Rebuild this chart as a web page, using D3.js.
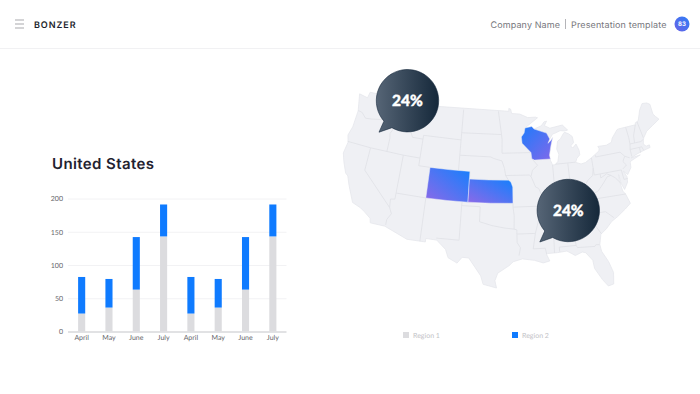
<!DOCTYPE html>
<html>
<head>
<meta charset="utf-8">
<script src="https://cdn.jsdelivr.net/npm/d3@7"></script>
<style>
  html, body { margin: 0; padding: 0; background: #fff; }
  svg { display: block; }
  text { font-family: Lato, sans-serif; text-rendering: geometricPrecision; }
  .head { font-family: Inter, "Open Sans", sans-serif; }
</style>
</head>
<body>
<svg id="chart" width="700" height="394"></svg>
<script>
// Balkendiagramm
const months = ["April", "May", "June", "July", "April", "May", "June", "July"];
const region1 = [27, 36, 63, 143, 27, 36, 63, 143];
const region2 = [55, 43, 79, 48, 55, 43, 79, 48];
const yTicks = [0, 50, 100, 150, 200];
const legendNames = ["Region 1", "Region 2"];
const bubbleLabels = ["24%", "24%"];

// Karte, alles in [lon, lat]
const usOutline = [[-124.7,48.4],[-123,48.2],[-122.8,49],[-110,49],[-95.15,49],[-95.15,49.38],[-94.8,49.3],[-94.6,48.7],[-93,48.6],[-91.5,48.1],[-90,48.1],[-89.6,48],[-92.1,46.75],[-90.8,46.9],[-90.4,46.55],[-89,46.9],[-88.4,47.4],[-87.9,47.47],[-88.4,46.9],[-87.4,46.5],[-85,46.75],[-84.6,46.45],[-84.1,46],[-84.7,45.95],[-85.5,46.05],[-86.5,45.8],[-87,45.7],[-87.6,45.1],[-88,44.55],[-87.4,44.9],[-87.05,45.25],[-87.5,44.2],[-87.9,43],[-87.8,42.3],[-87.5,41.7],[-87,41.7],[-86.5,42.1],[-86.2,43],[-86.5,43.7],[-86.2,44.7],[-85.6,45],[-85,45.6],[-84.75,45.78],[-84,45.5],[-83.4,45.1],[-83.3,44.3],[-83.9,43.9],[-83.6,43.6],[-82.9,44.05],[-82.5,43.2],[-82.5,42.6],[-83.1,42.2],[-83.4,41.7],[-82.5,41.4],[-81.7,41.5],[-80.5,42],[-79,42.7],[-78.9,43],[-79.05,43.3],[-77.5,43.25],[-76.5,43.5],[-76.2,44],[-75,44.95],[-74.7,45],[-71.5,45],[-71.4,45.25],[-70.8,45.4],[-70.3,46.2],[-70,46.7],[-69.2,47.45],[-68.3,47.35],[-67.8,47.05],[-67.8,45.7],[-67.45,45.3],[-67,44.85],[-68.5,44.3],[-69.8,43.8],[-70.6,43.1],[-70.8,42.8],[-71,42.3],[-70.6,41.95],[-70,42],[-70,41.65],[-71.2,41.5],[-72.5,41.27],[-73.7,40.95],[-72,41.05],[-73.9,40.55],[-74,40.4],[-74.1,39.75],[-74.9,38.95],[-75.5,39.5],[-75.1,38.7],[-75.2,38],[-75.95,37.15],[-76.3,38],[-76.4,39.2],[-76.5,38.4],[-76.3,37],[-75.95,36.55],[-75.5,35.25],[-76.5,34.65],[-77.9,33.9],[-79,33.4],[-80,32.6],[-81,32],[-81.4,30.7],[-81.3,29.8],[-80.5,28.3],[-80.05,26.8],[-80.3,25.3],[-81.1,25.15],[-81.8,26.1],[-82.7,27.7],[-82.8,28.8],[-83.7,29.9],[-84.2,30.05],[-85.3,29.7],[-86.5,30.4],[-88,30.3],[-89.4,30.3],[-89.6,30.15],[-89.2,29.3],[-90.2,29.1],[-91.5,29.5],[-93.3,29.75],[-94.7,29.4],[-95.3,28.9],[-97,27.9],[-97.4,26.9],[-97.15,25.95],[-99.1,26.4],[-99.5,27.5],[-100.4,28.6],[-101.4,29.77],[-102.4,29.8],[-103.1,29],[-104.5,29.6],[-105,30.65],[-106.5,31.75],[-108.2,31.78],[-108.2,31.33],[-111.07,31.33],[-114.8,32.5],[-117.12,32.53],[-117.3,33.1],[-118.4,33.75],[-119.2,34.15],[-120.6,34.55],[-121.9,36.6],[-122.5,37.7],[-123,38],[-123.8,39.3],[-124.35,40.4],[-124.1,41.9],[-124.5,42.8],[-124.1,44],[-124,46.2]];

const stateBorders = [
  [[-124,46.25],[-123.2,46.15],[-122.3,45.55],[-121.2,45.65],[-119.3,45.93],[-116.92,46]],
  [[-117.03,49],[-117.04,46.4],[-116.92,46],[-116.5,45.5],[-117.2,44.4],[-117.03,43.8],[-117.03,42]],
  [[-124.2,42],[-120,42],[-114.04,42],[-111.05,42]],
  [[-120,42],[-120,39],[-114.63,35],[-114.15,34.25],[-114.7,33.4],[-114.7,32.7]],
  [[-114.04,42],[-114.04,36.2],[-114.75,36.1],[-114.63,35]],
  [[-111.05,45],[-111.05,41],[-109.05,41]],
  [[-114.04,37],[-109.05,37],[-103,37],[-102.05,37],[-94.6,37]],
  [[-109.05,41],[-109.05,37],[-109.05,31.33]],
  [[-116.05,49],[-116.05,48],[-114.4,46.6],[-113.9,45.7],[-113,44.5],[-111.05,44.5]],
  [[-111.05,45],[-104.05,45]],
  [[-104.05,49],[-104.05,45],[-104.05,41]],
  [[-109.05,41],[-104.05,41],[-102.05,41],[-102.05,40],[-95.3,40]],
  [[-102.05,41],[-102.05,37]],
  [[-104.05,45.94],[-96.56,45.94]],
  [[-97.2,49],[-96.56,45.94],[-96.45,45.3],[-96.45,43.5]],
  [[-104.05,43],[-98.5,43],[-97.9,42.8],[-96.45,42.5]],
  [[-96.45,43.5],[-91.2,43.5]],
  [[-96.45,42.5],[-96,41.5],[-95.8,40.6],[-95.3,40],[-94.6,39.1],[-94.6,36.5],[-94.43,35.4],[-94.48,33.65]],
  [[-95.8,40.6],[-91.7,40.6],[-91.4,40.4]],
  [[-103,37],[-103.05,36.5],[-100,36.5],[-100,34.55],[-98,34.1],[-96,33.8],[-94.5,33.65],[-94.05,33.55],[-94.05,33],[-94.05,31.9],[-93.55,31.2],[-93.8,30.2]],
  [[-103.05,36.5],[-103.05,32],[-106.6,32]],
  [[-94.05,33],[-91.15,33]],
  [[-94.6,36.5],[-90.15,36.5],[-90.37,36],[-89.7,36]],
  [[-92.1,46.75],[-92.3,46.1],[-92.85,45.6],[-92.75,44.75],[-91.2,43.5],[-91.1,42.7],[-90.15,41.8],[-91.1,41.2],[-91.4,40.4],[-90.7,39],[-90.2,38.8],[-89.5,37.3],[-89.15,37],[-89.7,36],[-90.1,35],[-90.6,34.5],[-91.15,33],[-91.6,31],[-89.75,31],[-89.6,30.2]],
  [[-90.65,42.5],[-87.8,42.5]],
  [[-90.4,46.55],[-88.1,45.9],[-87.6,45.1]],
  [[-87.5,41.7],[-87.5,39.3],[-88,37.9]],
  [[-89.15,37],[-88,37.9],[-87,37.9],[-86,38],[-85.4,38.7],[-84.8,39.1],[-83.7,38.65],[-82.6,38.4],[-82,37.55]],
  [[-82.6,38.4],[-81.7,39.2],[-80.8,39.7],[-80.52,40.64]],
  [[-80.52,42],[-80.52,39.72]],
  [[-84.8,39.1],[-84.8,41.7]],
  [[-87,41.76],[-83.45,41.73]],
  [[-89.4,36.5],[-88,36.5],[-83.7,36.6],[-75.9,36.55]],
  [[-81.68,36.59],[-82,36.1],[-84.3,35]],
  [[-90.1,35],[-84.3,35],[-83.1,35],[-82.3,35.2],[-81,35.1],[-80.8,34.8],[-79.7,34.8],[-78.55,33.85]],
  [[-83.1,35],[-81.5,33],[-80.9,32.05]],
  [[-85.6,35],[-85.2,32.9],[-85,31]],
  [[-87.6,30.4],[-87.6,31],[-85,31],[-84.85,30.7],[-82.2,30.55],[-82,30.75],[-81.45,30.7]],
  [[-88.2,35],[-88.4,30.3]],
  [[-83.7,36.6],[-82,37.55],[-81.3,37.3],[-80.3,37.6],[-79.2,38.5],[-78.4,39.2],[-77.75,39.3],[-77.1,38.9],[-76.3,38]],
  [[-80.52,39.72],[-75.8,39.72]],
  [[-79.5,39.72],[-79.5,39.2],[-78.4,39.6],[-77.75,39.3]],
  [[-75.8,39.72],[-75.7,38.45],[-75.05,38.45]],
  [[-79.76,42.25],[-79.76,42],[-75.35,42],[-74.7,41.35],[-75.1,40.9],[-75.2,40.7],[-74.75,40.2],[-75.5,39.8]],
  [[-74.7,41.35],[-73.9,41]],
  [[-73.5,41.1],[-73.5,42.05],[-73.3,42.75],[-73.25,43.6],[-73.35,45]],
  [[-72.45,42.73],[-72.3,43.7],[-71.5,45]],
  [[-73.5,42.05],[-71.8,42.02],[-71.4,42.02],[-71.2,41.5]],
  [[-73.3,42.75],[-71.3,42.7],[-70.85,42.88]],
  [[-71.8,42.02],[-71.85,41.32]],
  [[-70.7,43.1],[-71.05,45.3]]
];

const colorado = [[-109.05,41],[-105.5,41],[-102.05,41],[-102.05,37],[-105.5,37],[-109.05,37]];
const kansas = [[-102.05,40],[-98.7,40],[-95.3,40],[-94.9,39.75],[-94.6,39.1],[-94.6,37],[-98.3,37],[-102.05,37]];
const wisconsin = [[-92.1,46.75],[-90.8,46.9],[-90.4,46.55],[-88.1,45.9],[-87.6,45.1],[-88,44.55],[-87.4,44.9],[-87.05,45.25],[-87.5,44.2],[-87.9,43],[-87.8,42.5],[-90.65,42.5],[-91.1,42.7],[-91.2,43.5],[-92.75,44.75],[-92.85,45.6],[-92.3,46.1]];

const svg = d3.select("#chart");
const defs = svg.append("defs");

function addGradient(id, x1, y1, x2, y2, from, to) {
    const g = defs.append("linearGradient").attr("id", id)
        .attr("x1", x1).attr("y1", y1).attr("x2", x2).attr("y2", y2);
    g.append("stop").attr("offset", "0%").attr("stop-color", from);
    g.append("stop").attr("offset", "100%").attr("stop-color", to);
}
addGradient("stateA", 1, 0, 0, 1, "#1380fd", "#8c69e8");
addGradient("stateB", 0, 0, 1, 1, "#1f7bfb", "#8168ea");
addGradient("bubble", 0, 0.5, 1, 0.5, "#566576", "#15283a");
addGradient("badge", 1, 0, 0, 1, "#2d7df6", "#6a62e6");

// Kopfzeile
svg.append("line").attr("x1", 0).attr("x2", 700).attr("y1", 48.5).attr("y2", 48.5)
    .attr("stroke", "#f1f1f3");
svg.selectAll(".burger").data([20, 24, 28]).join("line")
    .attr("class", "burger")
    .attr("x1", 15).attr("x2", 24)
    .attr("y1", d => d).attr("y2", d => d)
    .attr("stroke", "#a9a9ad");
svg.append("text").attr("class", "head")
    .attr("x", 34).attr("y", 27.5)
    .attr("font-size", 9).attr("font-weight", 600).attr("fill", "#1c1f2b")
    .attr("textLength", 41.5)
    .text("BONZER");
svg.append("text").attr("class", "head")
    .attr("x", 490.5).attr("y", 27.5)
    .attr("font-size", 9).attr("fill", "#77777d")
    .attr("textLength", 69.5)
    .text("Company Name");
svg.append("line").attr("x1", 565.5).attr("x2", 565.5).attr("y1", 19).attr("y2", 29)
    .attr("stroke", "#b4b4b8");
svg.append("text").attr("class", "head")
    .attr("x", 571).attr("y", 27.5)
    .attr("font-size", 9).attr("fill", "#77777d")
    .attr("textLength", 95.5)
    .text("Presentation template");
svg.append("circle").attr("cx", 682).attr("cy", 24).attr("r", 7.5)
    .attr("fill", "url(#badge)");
svg.append("text").attr("class", "head")
    .attr("x", 682).attr("y", 26.2)
    .attr("text-anchor", "middle")
    .attr("font-size", 6).attr("font-weight", 700).attr("fill", "#fff")
    .text("83");

// Titel
svg.append("text").attr("class", "head")
    .attr("x", 52).attr("y", 169)
    .attr("font-size", 15).attr("font-weight", 600).attr("fill", "#1f2230")
    .attr("textLength", 102)
    .text("United States");

// Skalen
const xScale = d3.scaleBand()
    .domain(d3.range(months.length))
    .range([68, 286.5])
    .paddingInner(0.74)
    .paddingOuter(0.37);

const yScale = d3.scaleLinear()
    .domain([0, 200])
    .range([331.5, 198.5]);

const yAxis = svg.append("g")
    .attr("transform", "translate(68, 0)")
    .call(d3.axisLeft(yScale).tickValues(yTicks).tickSize(-218.5).tickPadding(5));
yAxis.select(".domain").remove();
yAxis.selectAll("line").attr("stroke", d => d === 0 ? "#c4c5c9" : "#f2f2f4");
yAxis.selectAll("text").attr("fill", "#66666c").attr("font-size", 7).attr("font-family", "Lato");

const xAxis = svg.append("g")
    .attr("transform", "translate(0, 331.5)")
    .call(d3.axisBottom(xScale).tickFormat(i => months[i]).tickSize(0).tickPadding(4));
xAxis.select(".domain").remove();
xAxis.selectAll("text").attr("fill", "#66666c").attr("font-size", 7).attr("font-family", "Lato");

// Gestapelte Balken
svg.selectAll(".bar1").data(region1).join("rect")
    .attr("class", "bar1")
    .attr("x", (d, i) => xScale(i))
    .attr("width", xScale.bandwidth())
    .attr("y", d => yScale(d))
    .attr("height", d => yScale(0) - yScale(d))
    .attr("fill", "#dcdcdf");
svg.selectAll(".bar2").data(region2).join("rect")
    .attr("class", "bar2")
    .attr("x", (d, i) => xScale(i))
    .attr("width", xScale.bandwidth())
    .attr("y", (d, i) => yScale(region1[i] + d))
    .attr("height", d => yScale(0) - yScale(d))
    .attr("fill", "#0f7bff");

// Karte
const projection = d3.geoAlbers()
    .rotate([96, 0])
    .center([0, 37.5])
    .parallels([29.5, 45.5])
    .scale(438)
    .translate([504.5, 199.5]);

const mapLine = d3.line().x(d => projection(d)[0]).y(d => projection(d)[1]);

svg.append("path")
    .attr("d", mapLine(usOutline) + "Z")
    .attr("fill", "#eff0f4").attr("stroke", "#e6e7ec").attr("stroke-width", 0.8);

svg.selectAll(".border").data(stateBorders).join("path")
    .attr("class", "border")
    .attr("d", mapLine)
    .attr("fill", "none").attr("stroke", "#e0e1e6").attr("stroke-width", 0.8);

svg.selectAll(".state").data([
        { shape: colorado, fill: "url(#stateA)" },
        { shape: kansas, fill: "url(#stateA)" },
        { shape: wisconsin, fill: "url(#stateB)" }
    ]).join("path")
    .attr("class", "state")
    .attr("d", d => mapLine(d.shape) + "Z")
    .attr("fill", d => d.fill)
    .attr("stroke", "#fff").attr("stroke-width", 0.4);

// Sprechblasen
const bubbleSpots = [[407.5, 100.7], [568.3, 210.5]];
const toRad = Math.PI / 180;
bubbleLabels.forEach((label, i) => {
    const [cx, cy] = bubbleSpots[i];
    const r = 31.2;
    const p = d3.path();
    p.arc(cx, cy, r, 139 * toRad, 120 * toRad);
    p.lineTo(cx - 28.5, cy + 31.5);
    p.closePath();
    svg.append("path")
        .attr("d", p.toString())
        .attr("fill", "url(#bubble)")
        .attr("stroke", "#14273a").attr("stroke-width", 0.6);
    svg.append("text")
        .attr("x", cx).attr("y", cy + 5.5)
        .attr("text-anchor", "middle")
        .attr("font-size", 15.5).attr("font-weight", 900).attr("fill", "#fff")
        .attr("stroke", "#fff").attr("stroke-width", 0.4)
        .text(label);
});

// Legende
const legendX = [403, 512];
const legendColors = ["#dcdcdf", "#0f7bff"];
legendNames.forEach((name, i) => {
    svg.append("rect")
        .attr("x", legendX[i]).attr("y", 332)
        .attr("width", 6).attr("height", 6)
        .attr("fill", legendColors[i]);
    svg.append("text")
        .attr("x", legendX[i] + 10).attr("y", 337.5)
        .attr("font-size", 7).attr("fill", "#c2c2c6")
        .text(name);
});
</script>
</body>
</html>
